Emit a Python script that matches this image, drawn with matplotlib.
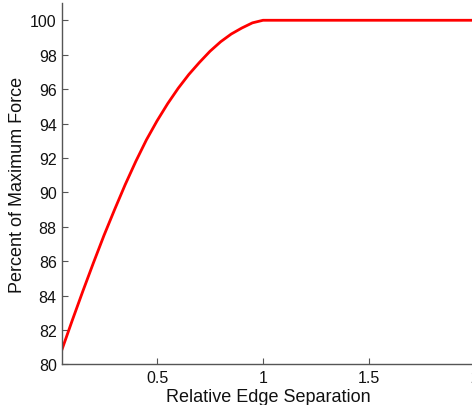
import matplotlib
matplotlib.use("Agg")
import matplotlib.pyplot as plt

plt.rcParams['font.family'] = ['Liberation Sans', 'DejaVu Sans']

# Force profile versus relative edge separation
separation = [0.05, 0.10, 0.15, 0.20, 0.25, 0.30, 0.35, 0.40, 0.45, 0.50,
              0.55, 0.60, 0.65, 0.70, 0.75, 0.80, 0.85, 0.90, 0.95, 1.0, 2.0]
percent_force = [80.8, 82.55, 84.25, 85.9, 87.5, 89.0, 90.45, 91.8, 93.05,
                 94.15, 95.15, 96.05, 96.85, 97.55, 98.2, 98.75, 99.2, 99.55,
                 99.85, 100.0, 100.0]

x_ticks = [0.5, 1, 1.5, 2]
x_tick_labels = ['0.5', '1', '1.5', '2']
y_ticks = [80, 82, 84, 86, 88, 90, 92, 94, 96, 98, 100]

fig = plt.figure(figsize=(4.72, 4.06), dpi=100)
ax = fig.add_axes([0.132, 0.100, 0.8745, 0.890])

ax.plot(separation, percent_force, color='#ff0000', linewidth=2.0,
        solid_joinstyle='round')

ax.set_xlim(0.0533, 2.0)
ax.set_ylim(80, 101)
ax.set_xticks(x_ticks)
ax.set_xticklabels(x_tick_labels)
ax.set_yticks(y_ticks)

for side in ('top', 'right'):
    ax.spines[side].set_visible(False)
for side in ('left', 'bottom'):
    ax.spines[side].set_color('#555555')
    ax.spines[side].set_linewidth(1.0)

ax.tick_params(direction='in', length=4, width=0.8, color='#555555',
               labelsize=11.5, labelcolor='#111111', pad=4)

ax.set_xlabel('Relative Edge Separation', fontsize=13, color='#111111',
              labelpad=2)
ax.set_ylabel('Percent of Maximum Force', fontsize=13, color='#111111',
              labelpad=3)

fig.savefig('out.png', dpi=100)
